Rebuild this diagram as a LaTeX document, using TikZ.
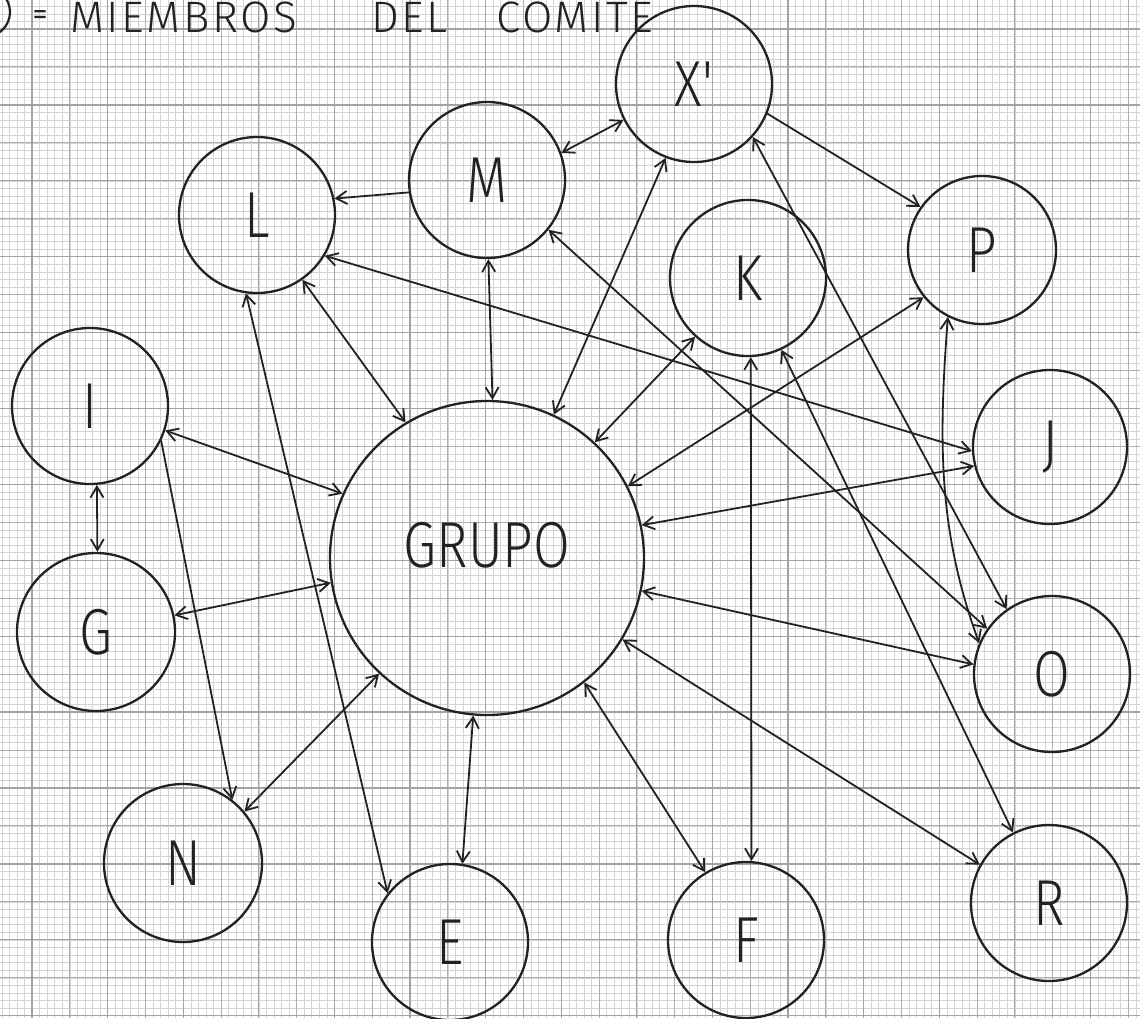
\documentclass[tikz,border=0pt]{standalone}
\usepackage{fontspec}
\usetikzlibrary{arrows.meta}
\newfontfamily\handfont[FakeStretch=0.82]{Fira Sans Light}
\newfontfamily\headfont[LetterSpace=6.0]{Fira Sans Light}
\newfontfamily\eqfont{Fira Sans}
\newcommand\nodelabfont{\handfont\fontsize{65}{70}\selectfont}
\newcommand\headlabfont{\headfont\fontsize{44}{48}\selectfont}
\definecolor{ink}{HTML}{222222}
\tikzset{
  gridfine/.style={draw=gray!34, line width=0.5pt},
  gridmid/.style={draw=gray!62, line width=1.0pt},
  gridmaj/.style={draw=gray!72, line width=1.3pt},
  memb/.style={circle, draw=ink, line width=2.3pt, minimum size=156pt, inner sep=0pt, font=\nodelabfont, text=ink},
  conn/.style={draw=ink, line width=1.8pt, line cap=round},
  both/.style={conn, <->},
  one/.style={conn, ->},
  head/.style={font=\headlabfont, text=ink, inner sep=0pt, anchor=base west}
}
\begin{document}
\begin{tikzpicture}[x=1pt, y=-1pt, >={Straight Barb[length=11pt,width=13pt]}]
\useasboundingbox (0,0) rectangle (1140,1018);
% graph paper
\begin{scope}
  \clip (0,0) rectangle (1140,1018);
  \fill[white] (0,0) rectangle (1140,1018);
  \foreach \k in {-5,...,146} { \draw[gridfine] (32+7.56*\k,0) -- (32+7.56*\k,1018); }
  \foreach \k in {-4,...,131} { \draw[gridfine] (0,29+7.59*\k) -- (1140,29+7.59*\k); }
  \foreach \k in {-1,...,30} { \draw[gridmid] (32+37.8*\k,0) -- (32+37.8*\k,1018); }
  \foreach \k in {-1,...,27} { \draw[gridmid] (0,29+37.95*\k) -- (1140,29+37.95*\k); }
  \foreach \k in {0,...,15} { \draw[gridmaj] (32+75.6*\k,0) -- (32+75.6*\k,1018); }
  \foreach \k in {0,...,13} { \draw[gridmaj] (0,29+75.9*\k) -- (1140,29+75.9*\k); }
\end{scope}

% title
\node[circle, draw=ink, line width=2.2pt, minimum size=50pt, inner sep=0pt] (sym) at (-15,12) {};
\node[font=\eqfont\fontsize{30}{32}\selectfont, text=ink, inner sep=0pt] (eq) at (40,18) {=};
\node[head] (t1) at (70,32) {MIEMBROS};
\node[head] (t2) at (371,32) {DEL};
\node[head] (t3) at (496,32) {COMITE};

% members
\node[memb] (xp) at (694,84) {X'};
\node[memb] (m) at (487,180) {M};
\node[memb] (l) at (257,215) {L};
\node[memb] (k) at (748,278) {K};
\node[memb, minimum size=148pt] (p) at (982,250) {P};
\node[memb] (i) at (90,406) {I};
\node[memb, minimum size=154pt] (j) at (1050,447) {J};
\node[memb, minimum size=314pt, label={[font=\nodelabfont, text=ink, yshift=13pt]center:GRUPO}] (grupo) at (487,558) {};
\node[memb, minimum size=158pt] (g) at (96,632) {G};
\node[memb] (o) at (1052,674) {O};
\node[memb, minimum size=158pt] (n) at (183,863) {N};
\node[memb] (e) at (450,942) {E};
\node[memb] (f) at (746,940) {F};
\node[memb] (r) at (1049,903) {R};

% connectors
\draw[one]  (m.189) -- (l.12);
\draw[both] (m.20) -- (xp.207);
\draw[both] (m.-89) -- (grupo.88);
\draw[both] (l.-55) -- (grupo.121);
\draw[both] (l.-98) -- (e.142);
\draw[both] (l.-31) -- (j.183);
\draw[both] (m.-39) -- (o.145);
\draw[one]  (xp.-22) -- (p.145);
\draw[both] (xp.-111) -- (grupo.65);
\draw[both] (xp.-42) -- (o.125);
\draw[both] (k.-65) -- (r.117);
\draw[both] (k.-132) -- (grupo.47);
\draw[both] (k.-88) -- (f.86);
\draw[both] (p.-141) -- (grupo.27);
\draw[both] (p.-117) .. controls +(-10,130) and +(-40,-110) .. (o.157);
\draw[both] (j.194) -- (grupo.12);
\draw[both] (o.173) -- (grupo.-12);
\draw[both] (grupo.-31) -- (r.151);
\draw[both] (grupo.-52) -- (f.121);
\draw[both] (grupo.-95) -- (e.81);
\draw[both] (grupo.-133) -- (n.40);
\draw[one]  (i.-26) -- (n.52);
\draw[both] (i.-18) -- (grupo.156);
\draw[both] (i.-85) -- (g.89);
\draw[both] (g.12) -- (grupo.189);
\end{tikzpicture}
\end{document}
